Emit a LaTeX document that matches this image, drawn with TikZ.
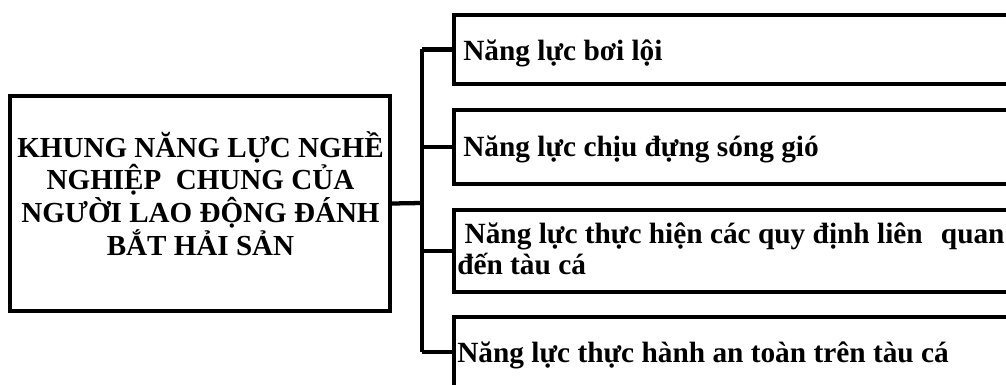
\documentclass[tikz,border=0pt]{standalone}
\usepackage{fontspec}
\setmainfont{Liberation Serif}
\begin{document}
\begin{tikzpicture}[x=0.75pt,y=-0.75pt,
  boxshape/.style={draw,line width=3.2pt,rectangle,inner sep=0pt},
  conn/.style={line width=3.2pt},
  txt/.style={inner sep=0pt,font=\bfseries\fontsize{22}{23.2}\selectfont,align=left},
  maintxt/.style={inner sep=0pt,font=\bfseries\fontsize{21.8}{22}\selectfont,align=center}]
\useasboundingbox (0,0) rectangle (1006,385);
\clip (0,0) rectangle (1006,385);
% main box
\node[boxshape,minimum width=285pt,minimum height=161.25pt] (main) at (200,203.5) {};
\node[maintxt,anchor=base] (mt) at (200.5,255) {KHUNG NĂNG LỰC NGHỀ\\NGHIỆP\ \ CHUNG CỦA\\NGƯỜI LAO ĐỘNG ĐÁNH\\BẮT HẢI SẢN};
% right boxes
\node[boxshape,minimum width=420.75pt,minimum height=51.75pt] (b1) at (734.5,49.5) {};
\node[boxshape,minimum width=420.75pt,minimum height=55.5pt] (b2) at (734.5,147) {};
\node[boxshape,minimum width=420.75pt,minimum height=61.5pt] (b3) at (734.5,251) {};
\node[boxshape,minimum width=420.75pt,minimum height=52.5pt] (b4) at (734.5,352) {};
% texts
\node[txt,anchor=base west] (t1) at (463,61) {Năng lực bơi lội};
\node[txt,anchor=base west] (t2) at (463,156) {Năng lực chịu đựng sóng gió};
\node[txt,anchor=base west] (t3) at (457,274) {\hspace*{0.25em}Năng lực thực hiện các quy định liên\hspace{0.62em}quan\\đến tàu cá};
\node[txt,anchor=base west] (t4) at (457,362) {Năng lực thực hành an toàn trên tàu cá};
% connectors
\coordinate (bus) at (422,203);
\draw[conn] (main.east) -- (bus);
\draw[conn] (bus |- b1.west) -- (bus |- b4.west);
\foreach \b in {b1,b2,b3,b4} \draw[conn] (bus |- \b.west) -- (\b.west);
\end{tikzpicture}
\end{document}
